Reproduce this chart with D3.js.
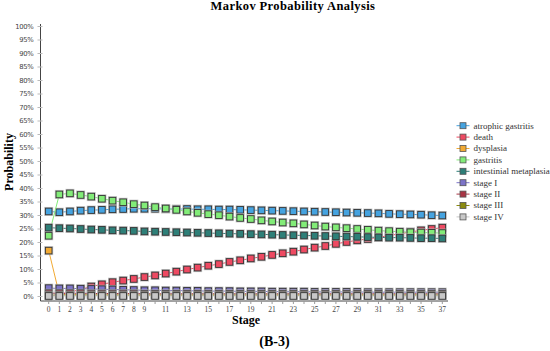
<!DOCTYPE html>
<html>
<head>
<meta charset="utf-8">
<script src="https://cdn.jsdelivr.net/npm/d3@7"></script>
<style>
  body { margin: 0; background: #fff; }
  svg { display: block; }
</style>
</head>
<body>
<div id="chart"></div>
<script>
// stages 0..37
var stages = d3.range(0, 38);
var xTickLabels = [0, 1, 2, 3, 4, 5, 6, 7, 8, 9, 11, 13, 15, 17, 19, 21, 23, 25, 27, 29, 31, 33, 35, 37];
var yTicks = d3.range(0, 101, 5);

var seriesNames = ["atrophic gastritis", "death", "dysplasia", "gastritis", "intestinial metaplasia",
    "stage I", "stage II", "stage III", "stage IV"];

// values in percent
var atrophic = [31.5, 31.2, 31.5, 31.8, 32.0, 32.1, 32.3, 32.4, 32.5, 32.5, 32.5, 32.4, 32.4, 32.4, 32.3, 32.3,
    32.2, 32.2, 32.1, 32.0, 31.9, 31.8, 31.7, 31.6, 31.5, 31.4, 31.3, 31.2, 31.1, 31.0, 30.9, 30.8, 30.6, 30.5,
    30.4, 30.3, 30.1, 30.0];
var death = [0, 0.8, 1.6, 2.6, 3.7, 4.5, 5.3, 5.9, 6.5, 7.2, 7.8, 8.5, 9.2, 10.0, 10.7, 11.4, 12.0, 12.8, 13.4,
    14.1, 14.7, 15.4, 16.0, 16.6, 17.4, 18.1, 18.7, 19.5, 20.2, 20.8, 21.3, 21.9, 22.6, 23.2, 23.9, 24.5, 25.0, 25.5];
var dysplasia = [17.0, 0.8, 0.7, 0.7, 0.6, 0.6, 0.6, 0.6, 0.5, 0.5, 0.5, 0.5, 0.5, 0.5, 0.5, 0.5, 0.5, 0.5, 0.5,
    0.5, 0.5, 0.5, 0.5, 0.5, 0.5, 0.5, 0.5, 0.5, 0.5, 0.5, 0.5, 0.5, 0.5, 0.5, 0.5, 0.5, 0.5, 0.5];
var gastritis = [22.5, 37.8, 38.2, 37.6, 37.0, 36.2, 35.5, 34.9, 34.2, 33.7, 33.1, 32.6, 32.1, 31.5, 31.0, 30.5,
    30.1, 29.6, 29.1, 28.7, 28.2, 27.8, 27.4, 27.1, 26.7, 26.3, 25.9, 25.6, 25.3, 25.0, 24.7, 24.4, 24.2, 24.0,
    23.8, 23.7, 23.6, 23.5];
var metaplasia = [25.5, 25.3, 25.2, 25.0, 24.8, 24.7, 24.5, 24.4, 24.3, 24.1, 24.0, 23.9, 23.8, 23.7, 23.6, 23.5,
    23.4, 23.3, 23.2, 23.1, 23.0, 22.9, 22.8, 22.7, 22.6, 22.5, 22.4, 22.3, 22.2, 22.1, 22.0, 21.9, 21.8, 21.8,
    21.7, 21.6, 21.6, 21.5];
var stageI = [3.1, 3.0, 3.0, 2.9, 2.8, 2.7, 2.6, 2.5, 2.4, 2.3, 2.3, 2.2, 2.2, 2.1, 2.1, 2.0, 2.0, 2.0, 1.9, 1.9,
    1.9, 1.8, 1.8, 1.8, 1.8, 1.7, 1.7, 1.7, 1.7, 1.7, 1.6, 1.6, 1.6, 1.6, 1.6, 1.6, 1.6, 1.6];
var stageII = [1.2, 1.2, 1.2, 1.2, 1.1, 1.1, 1.1, 1.1, 1.1, 1.0, 1.0, 1.0, 1.0, 1.0, 1.0, 1.0, 1.0, 1.0, 1.0, 1.0,
    1.0, 1.0, 1.0, 1.0, 1.0, 1.0, 1.0, 1.0, 1.0, 1.0, 1.0, 1.0, 1.0, 1.0, 1.0, 1.0, 1.0, 1.0];
var stageIII = [0.5, 0.5, 0.5, 0.5, 0.5, 0.5, 0.5, 0.5, 0.5, 0.5, 0.5, 0.5, 0.5, 0.5, 0.5, 0.5, 0.5, 0.5, 0.5, 0.5,
    0.5, 0.5, 0.5, 0.5, 0.5, 0.5, 0.5, 0.5, 0.5, 0.5, 0.5, 0.5, 0.5, 0.5, 0.5, 0.5, 0.5, 0.5];
var stageIV = [0.2, 0.2, 0.2, 0.2, 0.2, 0.2, 0.2, 0.2, 0.2, 0.2, 0.2, 0.2, 0.2, 0.2, 0.2, 0.2, 0.2, 0.2, 0.2, 0.2,
    0.2, 0.2, 0.2, 0.2, 0.2, 0.2, 0.2, 0.2, 0.2, 0.2, 0.2, 0.2, 0.2, 0.2, 0.2, 0.2, 0.2, 0.2];

var seriesValues = [atrophic, death, dysplasia, gastritis, metaplasia, stageI, stageII, stageIII, stageIV];

function segColor(c) {
    var color = ["#45a3e0", "#ee4a62", "#f2aa33", "#82ec78", "#2e7f78", "#7c73c8", "#a83444", "#8c8c10", "#c8c8c8"];
    return color[c % 9];
}

var W = 550, H = 351;
var svg = d3.select("#chart").append("svg").attr("width", W).attr("height", H);

var x = d3.scaleLinear().domain([0, 37]).range([48.7, 442.3]);
var y = d3.scaleLinear().domain([0, 100]).range([296.5, 26.5]);

// title
svg.append("text").attr("x", 293).attr("y", 10)
    .attr("text-anchor", "middle")
    .style("font-family", "Liberation Serif, serif").style("font-weight", "bold").style("font-size", "12.5px")
    .style("letter-spacing", "0.4px")
    .text("Markov Probability Analysis");

// y axis
var yAxis = svg.append("g").attr("transform", "translate(40.5,0)");
yAxis.append("line").attr("y1", 24).attr("y2", 301).attr("stroke", "#444").attr("stroke-width", 1);
yAxis.selectAll("g.tick").data(yTicks).enter().append("g").attr("class", "tick")
    .each(function(d) {
        var g = d3.select(this);
        g.append("line").attr("x1", -3).attr("x2", 2).attr("y1", y(d)).attr("y2", y(d))
            .attr("stroke", "#bbb");
        g.append("text").attr("x", -7).attr("y", y(d)).attr("dy", "0.35em")
            .attr("text-anchor", "end")
            .style("font-family", "DejaVu Sans, sans-serif").style("font-size", "6.8px")
            .style("fill", "#444").style("letter-spacing", "-0.3px")
            .text(d + "%");
    });

svg.append("text").attr("transform", "translate(13,162) rotate(-90)")
    .attr("text-anchor", "middle")
    .style("font-family", "Liberation Serif, serif").style("font-weight", "bold").style("font-size", "12px")
    .text("Probability");

// x axis
var xAxisG = svg.append("g").attr("transform", "translate(0,301)");
xAxisG.append("line").attr("x1", 40.5).attr("x2", 448).attr("stroke", "#444");
xAxisG.selectAll("line.tk").data(stages).enter().append("line").attr("class", "tk")
    .attr("x1", function(d) { return x(d); }).attr("x2", function(d) { return x(d); })
    .attr("y1", 0).attr("y2", 3).attr("stroke", "#999");
xAxisG.selectAll("text").data(xTickLabels).enter().append("text")
    .attr("x", function(d) { return x(d); }).attr("y", 11)
    .attr("text-anchor", "middle")
    .style("font-family", "Liberation Serif, serif").style("font-size", "7.5px").style("fill", "#444")
    .text(function(d) { return d; });

svg.append("text").attr("x", 246).attr("y", 323.5)
    .attr("text-anchor", "middle")
    .style("font-family", "Liberation Serif, serif").style("font-weight", "bold").style("font-size", "12px")
    .text("Stage");

svg.append("text").attr("x", 274.5).attr("y", 346)
    .attr("text-anchor", "middle")
    .style("font-family", "Liberation Serif, serif").style("font-weight", "bold").style("font-size", "14px")
    .text("(B-3)");

// series
var line = d3.line().x(function(d, i) { return x(i); }).y(function(d) { return y(d); });
var plot = svg.append("g");
seriesValues.forEach(function(vals, k) {
    var g = plot.append("g");
    g.append("path").attr("d", line(vals)).attr("fill", "none")
        .attr("stroke", segColor(k)).attr("stroke-width", 1);
    var pts = g.selectAll("g.pt").data(vals).enter().append("g").attr("class", "pt")
        .attr("transform", function(d, i) { return "translate(" + x(i) + "," + y(d) + ")"; });
    pts.append("rect").attr("x", -4.5).attr("y", -4.5).attr("width", 9).attr("height", 9)
        .attr("fill", "#b0b0b0").attr("opacity", 0.75);
    pts.append("rect").attr("x", -3.3).attr("y", -3.3).attr("width", 6.6).attr("height", 6.6)
        .attr("fill", segColor(k)).attr("stroke", "#333").attr("stroke-width", 0.9);
});

// legend
var leg = svg.append("g").attr("transform", "translate(463,125.7)");
var items = leg.selectAll("g").data(seriesNames).enter().append("g")
    .attr("transform", function(d, i) { return "translate(0," + (i * 11.4) + ")"; });
items.append("line").attr("x1", -6.5).attr("x2", 6.5).attr("stroke", function(d, i) { return segColor(i); });
items.append("rect").attr("x", -3).attr("y", -3).attr("width", 6).attr("height", 6)
    .attr("fill", function(d, i) { return segColor(i); }).attr("stroke", "#555").attr("stroke-width", 0.8);
items.append("text").attr("x", 10.5).attr("dy", "0.32em")
    .style("font-family", "Liberation Serif, serif").style("font-size", "9px").style("fill", "#333")
    .text(function(d) { return d; });
</script>
</body>
</html>
